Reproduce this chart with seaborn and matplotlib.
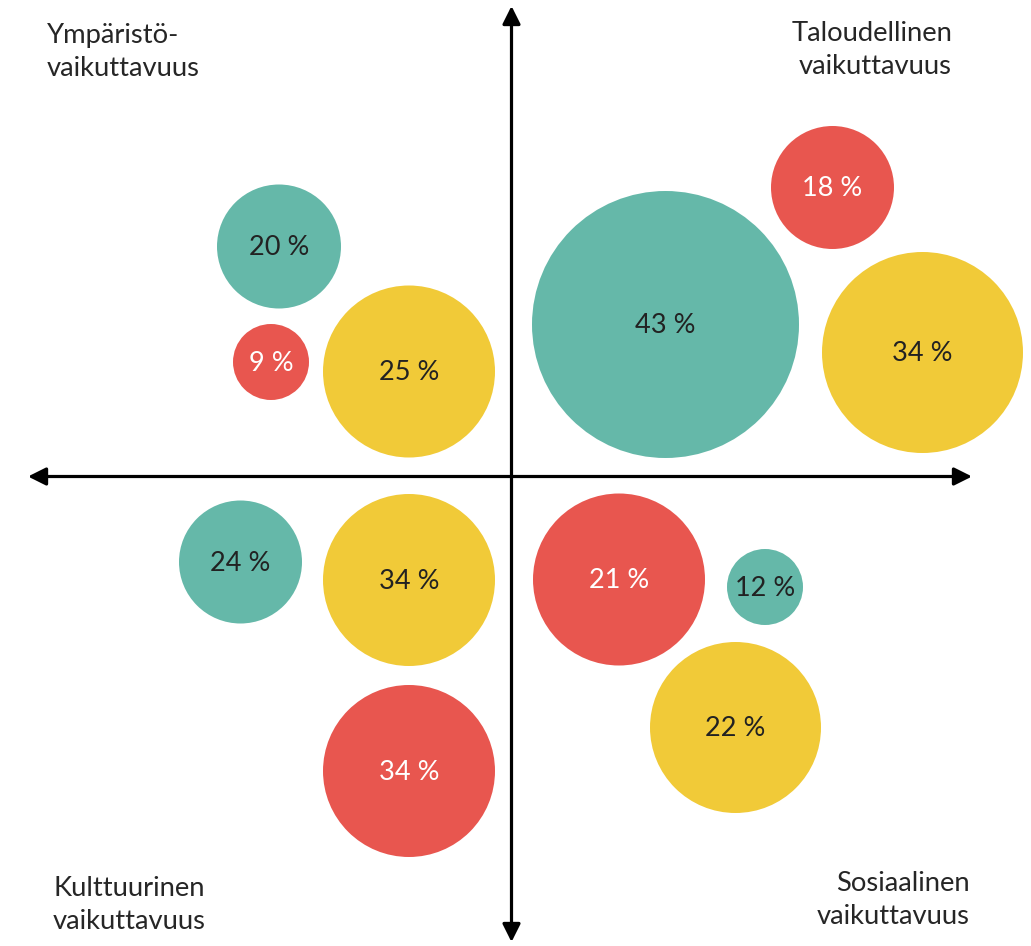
import matplotlib
matplotlib.use('Agg')
import matplotlib.pyplot as plt
import pandas as pd
import seaborn as sns

sns.set_style('white')
plt.rcParams['font.family'] = ['Lato', 'DejaVu Sans']

#%% DATA (pixel-like canvas coordinates, y grows downwards)
labels = ['20 %', '9 %', '25 %', '43 %', '18 %', '34 %',
          '24 %', '34 %', '34 %', '21 %', '12 %', '22 %']
groups = ['teal', 'red', 'yellow', 'teal', 'red', 'yellow',
          'teal', 'yellow', 'red', 'red', 'teal', 'yellow']
bx = [279, 271, 409, 665.5, 832.5, 922.5, 240.5, 409, 409, 619, 765, 735.5]
by = [246.5, 362, 371.5, 324.5, 187.5, 352.5, 562, 580, 771, 579.5, 587, 727.5]
br = [62, 38, 86, 133.5, 61.5, 100.5, 61.5, 86, 86, 86, 38, 85.5]

quadrant_labels = ['Ympäristö-\nvaikuttavuus', 'Taloudellinen\nvaikuttavuus',
                   'Kulttuurinen\nvaikuttavuus', 'Sosiaalinen\nvaikuttavuus']

colors = {'teal': '#65B8A9', 'red': '#E8564F', 'yellow': '#F1CA38'}
text_colors = {'teal': '#222222', 'red': 'white', 'yellow': '#222222'}

df = pd.DataFrame({'x': bx, 'y': by, 'r': br, 'group': groups, 'label': labels})

W, H = 1031, 946
fig = plt.figure(figsize=(W / 100, H / 100), dpi=100)
ax = fig.add_axes([0, 0, 1, 1])
ax.set_xlim(0, W)
ax.set_ylim(H, 0)

# one data unit = one pixel = 0.72 pt
df['s'] = (2 * df['r'] * 0.72) ** 2
sns.scatterplot(data=df, x='x', y='y', hue='group', palette=colors,
                s=df['s'].values, linewidth=0, alpha=1, legend=False, ax=ax, zorder=3)

for _, row in df.iterrows():
    ax.text(row['x'], row['y'] + 1, row['label'], ha='center', va='center',
            fontsize=19.5, color=text_colors[row['group']], zorder=4)

# axes arrows
arrow = dict(arrowstyle='<|-|>,head_length=0.54,head_width=0.27', mutation_scale=20,
             lw=2.3, color='black', shrinkA=0, shrinkB=0)
ax.annotate('', xy=(28, 476.5), xytext=(972, 476.5), arrowprops=arrow, zorder=2)
ax.annotate('', xy=(511.5, 6), xytext=(511.5, 942), arrowprops=arrow, zorder=2)

tk = dict(fontsize=19.7, color='#262626', linespacing=1.42, va='center')
ax.text(47, 52, quadrant_labels[0], ha='left', **tk)
ax.text(952, 50, quadrant_labels[1], ha='right', multialignment='right', **tk)
ax.text(53, 905, quadrant_labels[2], ha='left', **tk)
ax.text(970, 900, quadrant_labels[3], ha='right', multialignment='right', **tk)

ax.set_axis_off()
fig.savefig('out.png', dpi=100)
